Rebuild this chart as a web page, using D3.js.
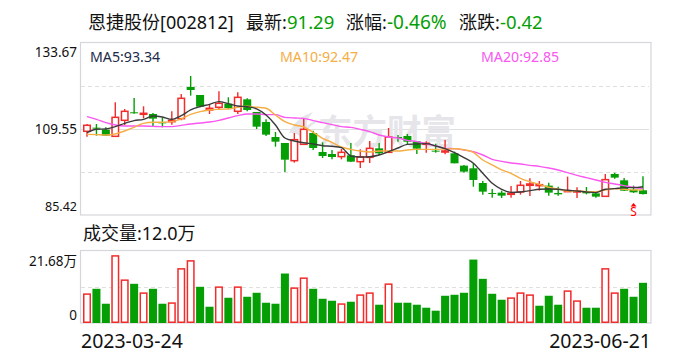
<!DOCTYPE html>
<html>
<head>
<meta charset="utf-8">
<script src="https://cdn.jsdelivr.net/npm/d3@7"></script>
<style>
    html, body { margin: 0; padding: 0; background: #fff; }
    svg { display: block; }
    text { font-family: "Noto Sans", "Noto Sans CJK SC", sans-serif; }
</style>
</head>
<body>
<div class="canvas"></div>
<script>
// Daily candles
const open = [108.90,109.92,109.36,107.49,111.98,114.23,113.85,113.76,111.42,111.61,112.45,121.33,119.09,114.88,115.63,116.66,114.51,117.87,114.32,111.51,
    107.30,105.62,100.66,105.24,108.42,103.09,102.53,101.79,102.16,100.38,101.60,104.12,103.00,107.30,107.58,106.09,105.43,103.47,103.09,102.72,
    99.27,98.52,94.40,91.60,91.69,91.22,91.88,93.75,93.84,93.66,91.60,92.16,92.07,91.97,91.50,90.66,96.93,95.15,92.53,92.35];
const close = [110.58,109.74,107.68,112.82,114.51,114.04,113.95,112.45,111.33,111.98,118.15,120.49,115.81,115.35,116.75,115.44,118.43,114.88,110.20,107.96,
    105.99,100.94,106.55,109.45,104.22,101.97,101.69,103.00,100.38,101.69,104.12,102.72,107.30,107.11,105.99,104.03,105.52,103.28,103.37,99.92,
    97.58,95.25,91.97,91.41,90.85,91.50,93.75,94.12,93.93,91.69,91.22,92.25,92.16,91.50,90.57,95.34,95.90,92.25,91.78,91.29];
const high = [110.95,110.95,110.02,117.03,115.16,118.25,115.91,114.04,112.73,114.51,119.37,124.42,119.09,116.47,120.12,118.43,119.84,118.15,114.32,112.26,
    108.70,105.62,108.42,112.35,109.08,105.81,103.66,103.94,105.62,103.84,106.18,105.62,109.83,107.86,108.14,106.09,106.09,105.43,106.46,103.19,
    99.45,99.92,94.96,92.72,92.25,93.56,94.96,95.71,94.96,94.50,93.37,96.18,93.19,93.28,91.79,96.93,97.30,95.81,93.66,96.27];
const low = [107.40,107.68,107.59,107.49,110.67,113.85,112.54,110.39,110.02,110.77,111.98,118.90,115.63,113.76,115.07,115.16,113.76,114.51,109.55,107.59,
    104.59,97.48,100.10,105.06,103.66,101.41,101.04,101.04,100.29,98.61,100.01,102.25,102.81,105.99,105.06,102.53,102.91,102.91,102.44,99.92,
    97.30,93.37,91.13,90.29,90.20,90.29,91.13,90.76,92.25,90.85,90.85,91.88,90.20,91.22,90.29,90.66,95.62,92.16,91.60,91.20];

// Moving averages
const ma5 = [108.52,109.46,109.55,110.20,111.14,111.89,112.26,113.20,112.92,112.26,113.29,114.88,115.81,116.47,117.22,116.66,116.00,115.80,115.20,113.47,
    110.67,107.02,106.18,105.70,105.34,104.86,104.69,104.30,101.97,101.69,101.78,102.25,103.19,104.22,105.24,105.34,105.43,104.78,104.03,102.90,
    101.51,99.92,97.12,94.31,92.63,91.78,91.88,92.25,92.63,92.72,92.63,92.35,92.16,91.88,91.69,92.63,92.81,93.09,93.09,93.34];
const ma10 = [108.05,107.96,107.87,108.15,108.99,110.02,111.14,111.42,111.42,111.61,112.36,113.66,114.41,114.88,115.07,115.16,115.63,115.91,115.63,115.35,
    113.47,111.60,110.67,110.11,108.62,106.94,105.80,104.50,103.84,103.37,103.09,103.37,103.37,103.37,103.66,103.84,103.84,103.84,103.90,104.00,
    103.74,103.01,100.85,99.45,98.05,97.12,95.72,94.78,94.03,93.19,92.72,92.16,92.16,91.97,91.97,92.44,92.81,92.63,92.44,92.47];
const ma20 = [113.01,112.26,111.32,110.67,110.39,110.39,110.39,110.29,110.20,110.20,110.57,110.95,111.23,111.51,111.98,112.63,113.29,113.76,113.76,113.57,
    113.57,112.82,112.63,112.54,111.88,111.32,110.76,110.20,110.01,109.45,108.80,107.86,107.30,107.02,106.37,105.99,105.43,104.78,104.12,104.03,
    103.66,103.19,102.25,101.04,100.48,100.01,99.73,99.35,99.07,98.61,98.04,97.30,96.55,95.89,95.24,94.59,94.12,93.66,93.19,92.85];

// Volume in 万, and whether the volume bar is a red (up) one
const volume = [8.7,10.3,5.8,20.2,12.9,11.8,9.0,10.3,5.8,6.0,16.3,18.7,10.9,4.9,10.8,7.6,10.8,7.9,9.1,6.1,5.8,14.9,10.5,13.5,10.3,7.3,6.7,5.7,6.4,8.4,
    9.0,5.5,11.7,6.1,6.1,5.5,4.6,3.7,8.2,8.5,9.1,19.1,13.3,8.8,7.0,7.5,9.0,8.4,5.2,8.2,5.5,9.6,6.6,4.6,4.6,16.3,9.0,10.3,7.9,12.1];
const volumeUp = [1,0,0,1,1,0,1,0,0,1,1,1,0,0,1,0,1,0,0,0,0,0,1,1,0,0,0,1,0,1,
    1,0,1,0,0,0,0,0,0,0,0,0,0,0,0,1,1,1,0,0,0,1,1,0,0,1,1,0,0,0];

const priceTicks = ['133.67', '109.55', '85.42'];
const dates = ['2023-03-24', '2023-06-21'];

const red = '#f22b2b';
const green = '#059e05';
const frameColor = '#d5d5da';
const gridColor = '#dfdfdf';

const svg = d3.select('.canvas')
    .append('svg')
        .attr('width', 688)
        .attr('height', 360);

// Scales
const index = d3.range(volume.length);
const x = d3.scaleBand()
    .domain(index)
    .range([82.3, 647.7])
    .paddingInner(0.15)
    .paddingOuter(0.075);
const y = d3.scaleLinear()
    .domain([85.42, 133.67])
    .range([215, 43]);
const yVol = d3.scaleLinear()
    .domain([0, 21.68])
    .range([323, 251]);
const mid = i => x(i) + x.bandwidth() / 2;

// Panel frames and grid lines
const frame = (top, bottom) => svg.append('rect')
    .attr('x', 80.5)
    .attr('y', top - 0.5)
    .attr('width', 570.5)
    .attr('height', bottom - top + 0.5)
    .attr('fill', 'none')
    .attr('stroke', frameColor)
    .attr('stroke-width', 1.2);
frame(43, 215);
frame(251, 323);

const grid = (yPos, dashed) => svg.append('line')
    .attr('x1', 81).attr('x2', 649)
    .attr('y1', Math.round(yPos) + 0.5).attr('y2', Math.round(yPos) + 0.5)
    .attr('stroke', gridColor)
    .attr('stroke-dasharray', dashed ? '4,3' : null);
grid(y(121.61), true);
grid(y(109.55), false);
grid(y(97.48), true);
grid(yVol(10.84), true);

// Watermark
const mark = svg.append('g').attr('fill', '#e6e6ea');
mark.append('path')
    .attr('d', 'M289,133 C293,124 300,116 313,112 C308,118 306,122 307,126 C311,122 315,121 318,121 C310,126 304,132 301,140 C300,134 295,133 289,133 Z');
mark.append('text')
    .attr('x', 318)
    .attr('y', 144)
    .style('font-family', '"Noto Sans CJK SC"')
    .style('font-size', '34.5px')
    .style('font-weight', 700)
    .text('东方财富');

// Candles
const candles = svg.append('g');
candles.selectAll('line')
    .data(index)
    .enter()
    .append('line')
    .attr('x1', d => mid(d) )
    .attr('x2', d => mid(d))
    .attr('y1', d => y(high[d]))
    .attr('y2', d => y(low[d]))
    .attr('stroke', d => close[d] >= open[d] ? red : green)
    .attr('stroke-width', 1.4);

candles.selectAll('rect')
    .data(index)
    .enter()
    .append('rect')
    .attr('x', d => close[d] >= open[d] ? x(d) + 0.75 : x(d))
    .attr('width', d => close[d] >= open[d] ? x.bandwidth() - 1.5 : x.bandwidth())
    .attr('y', d => y(Math.max(open[d], close[d])))
    .attr('height', d => Math.max(y(Math.min(open[d], close[d])) - y(Math.max(open[d], close[d])), 1))
    .attr('fill', d => close[d] >= open[d] ? '#fff' : green)
    .attr('stroke', d => close[d] >= open[d] ? red : 'none')
    .attr('stroke-width', 1.5);

// Moving average lines
const line = d3.line()
    .x((d, i) => mid(i))
    .y(d => y(d))
    .curve(d3.curveMonotoneX);
[[ma20, '#f957ef'], [ma10, '#f5ad44'], [ma5, '#3a3a3a']].forEach(([values, color]) => {
    svg.append('path')
        .attr('d', line(values))
        .attr('fill', 'none')
        .attr('stroke', color)
        .attr('stroke-width', 1.4);
});

// Sell marker under candle 59
const sell = svg.append('g').attr('transform', `translate(${mid(58)}, 0)`).attr('fill', '#f00');
sell.append('path').attr('d', 'M0,203 L3,206.5 L-3,206.5 Z');
sell.append('text')
    .attr('y', 215.5)
    .attr('text-anchor', 'middle')
    .style('font-size', '12px')
    .text('S');

// Volume bars
svg.append('g').selectAll('rect')
    .data(index)
    .enter()
    .append('rect')
    .attr('x', d => volumeUp[d] ? x(d) + 0.75 : x(d))
    .attr('width', d => volumeUp[d] ? x.bandwidth() - 1.5 : x.bandwidth())
    .attr('y', d => yVol(volume[d]))
    .attr('height', d => yVol(0) - yVol(volume[d]) - (volumeUp[d] ? 0.75 : 0))
    .attr('fill', d => volumeUp[d] ? '#fff' : green)
    .attr('stroke', d => volumeUp[d] ? red : 'none')
    .attr('stroke-width', 1.5);

// Text
const label = (xPos, yPos, str, size, color, anchor) => svg.append('text')
    .attr('x', xPos)
    .attr('y', yPos)
    .attr('text-anchor', anchor || 'start')
    .attr('fill', color || '#111')
    .style('font-size', size + 'px')
    .text(str);

label(88, 29, '恩捷股份[002812]', 18);
label(246, 29, '最新:', 18);
label(287, 29, '91.29', 18.5, green);
label(346, 29, '涨幅:', 18);
label(387, 29, '-0.46%', 19, green);
label(459, 29, '涨跌:', 18);
label(500, 29, '-0.42', 18.5, green);

label(90, 62, 'MA5:93.34', 14.2, '#1b2a4a');
label(280, 62, 'MA10:92.47', 14.2, '#f5ad44');
label(481, 62, 'MA20:92.85', 14.2, '#f957ef');

label(77, 57, priceTicks[0], 13.5, '#111', 'end');
label(77, 134, priceTicks[1], 13.5, '#111', 'end');
label(77, 211, priceTicks[2], 12.5, '#111', 'end');

label(83, 240, '成交量:12.0万', 18);
label(77, 266, '21.68万', 13.5, '#111', 'end');
label(77, 320, '0', 13.5, '#111', 'end');

label(81, 348, dates[0], 19.5);
label(651, 348, dates[1], 19.5, '#111', 'end');
</script>
</body>
</html>
